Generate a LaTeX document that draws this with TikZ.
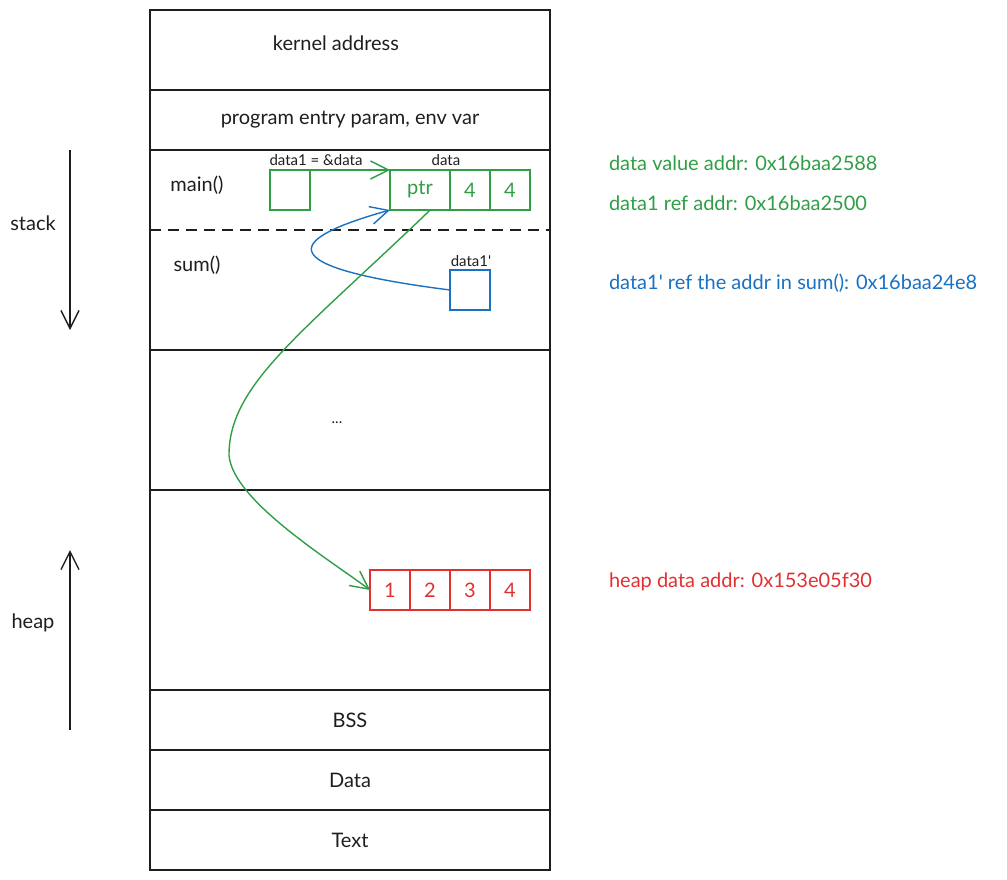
\documentclass[tikz,border=0pt]{standalone}
\usepackage{fontspec}
\setmainfont{Lato}
\usetikzlibrary{positioning,arrows.meta}

\definecolor{ink}{HTML}{1E1E1E}
\definecolor{grn}{HTML}{2F9E44}
\definecolor{blu}{HTML}{1971C2}
\definecolor{rd}{HTML}{E03131}

\begin{document}
\begin{tikzpicture}[x=1pt,y=-1pt,line width=1.4pt,
  font=\fontsize{20}{24}\selectfont,text=ink,
  region/.style={draw=ink,minimum width=400pt,inner sep=0pt,outer sep=0pt},
  cell/.style={draw,minimum width=40pt,minimum height=40pt,inner sep=0pt,outer sep=0pt},
  small/.style={font=\fontsize{15}{17}\selectfont},
  tip/.style={-{Straight Barb[length=18pt,width=18pt]}}]
\useasboundingbox (0,0) rectangle (1007,880);

% memory column
\node[region,minimum height=80pt] (kernel) at (350,50) {};
\node at (336,43) (kernellbl) {kernel address};
\node[region,minimum height=60pt] (entry) at (350,120) {program entry param, env var};
\node[region,minimum height=200pt] (stack) at (350,250) {};
\node[region,minimum height=140pt] (gap) at (350,420) {};
\node[small] at (337,423) (gapdots) {...};
\node[region,minimum height=200pt] (heap) at (350,590) {};
\node[region,minimum height=60pt] (bss) at (350,720) {BSS};
\node[region,minimum height=60pt] (datasec) at (350,780) {Data};
\node[region,minimum height=60pt] (textsec) at (350,840) {Text};

\coordinate (splitw) at (150,230);
\coordinate (splite) at (550,230);
\draw[ink,dash pattern=on 11pt off 7pt] (splitw) -- (splite);

\node at (197,185) (mainlbl) {main()};
\node at (197,265) (sumlbl) {sum()};

% main() frame
\node[cell,draw=grn] (ref) at (290,190) {};
\node[cell,draw=grn,text=grn,minimum width=60pt] (ptr) at (420,190) {ptr};
\node[cell,draw=grn,text=grn,right=0pt of ptr] (len) {4};
\node[cell,draw=grn,text=grn,right=0pt of len] (cap) {4};
\node[small] at (316,160) (reflbl) {data1 = \&data};
\node[small] at (446,160) (datalbl) {data};

% sum() frame
\node[cell,draw=blu] (refcopy) at (470,290) {};
\node[small] at (471,261) (refcopylbl) {data1\textquotesingle};

% heap array
\node foreach \i in {1,...,4}
  [cell,draw=rd,text=rd] (h\i) at (350+40*\i,590) {\i};

\draw[grn,tip] (ref.north east) -- (ptr.north west);
\draw[blu,tip] (refcopy.west) .. controls (262,266) and (290,238) .. (ptr.south west);
\draw[grn,tip] (ptr.-63) .. controls (300,335) and (229,385) .. (229,455)
  .. controls (232,500) and (330,560) .. (h1.west);

% growth directions
\coordinate (stacktop) at (70,150);
\coordinate (stackend) at (70,330);
\coordinate (heapbot) at (70,730);
\coordinate (heapend) at (70,550);
\draw[ink,tip] (stacktop) -- (stackend);
\draw[ink,tip] (heapbot) -- (heapend);
\node at (33,223) (stacklbl) {stack};
\node at (33,623) (heaplbl) {heap};

% addresses
\node[anchor=west,text=grn] at (605,163) (valaddr) {data value addr: 0x16baa2588};
\node[anchor=west,text=grn] at (605,203) (refaddr) {data1 ref addr: 0x16baa2500};
\node[anchor=west,text=blu] at (605,283) (copyaddr) {data1\textquotesingle{} ref the addr in sum(): 0x16baa24e8};
\node[anchor=west,text=rd] at (605,582) (heapaddr) {heap data addr: 0x153e05f30};
\end{tikzpicture}
\end{document}
